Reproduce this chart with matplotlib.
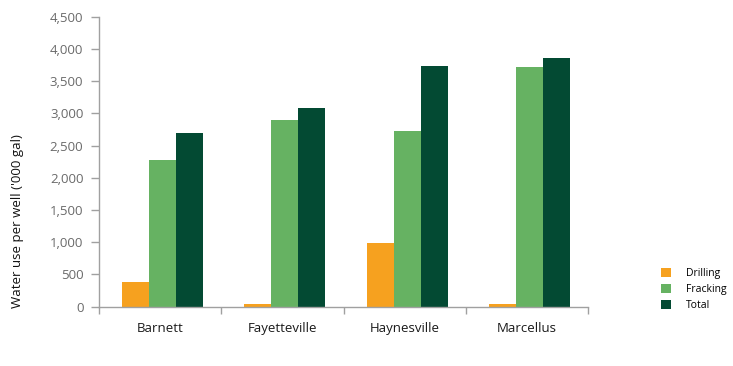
import matplotlib
matplotlib.use("Agg")
import matplotlib.pyplot as plt
import numpy as np
from matplotlib.patches import Patch

categories = ["Barnett", "Fayetteville", "Haynesville", "Marcellus"]
drilling = [380, 35, 985, 45]
fracking = [2275, 2900, 2720, 3720]
total = [2690, 3085, 3740, 3860]
series_names = ["Drilling", "Fracking", "Total"]
yticks = [0, 500, 1000, 1500, 2000, 2500, 3000, 3500, 4000, 4500]
ytick_labels = ["0", "500", "1,000", "1,500", "2,000", "2,500", "3,000", "3,500", "4,000", "4,500"]

colors = ["#F6A11F", "#66B262", "#034A33"]
plt.rcParams['font.family'] = ['Open Sans', 'DejaVu Sans']

W, H = 733, 366
fig = plt.figure(figsize=(W/100, H/100), dpi=100)
ax = fig.add_axes([98.7/W, 1-306.7/H, (588.3-98.7)/W, (306.7-16.7)/H])

x = np.arange(len(categories))
bw = 0.22
offsets = [-bw, 0, bw]
for vals, off, c in zip([drilling, fracking, total], offsets, colors):
    ax.bar(x + off + 0.02, vals, width=bw, color=c, edgecolor='none')

ax.set_xlim(-0.5, len(categories) - 0.5)
ax.set_ylim(0, 4500)
ax.set_yticks(yticks)
ax.set_yticklabels(ytick_labels, color="#6a6a6a", fontsize=9.5)
ax.set_xticks(x)
ax.set_xticklabels(categories, fontsize=9.5, color="#1a1a1a")
ax.set_xticks(np.arange(-0.5, len(categories)), minor=True)
ax.tick_params(axis='x', which='major', length=0, pad=11)
ax.tick_params(axis='x', which='minor', length=5, color="#a0a0a0", width=1)
ax.tick_params(axis='y', length=6, color="#a0a0a0", width=1, pad=5)

for s in ['top', 'right']:
    ax.spines[s].set_visible(False)
for s in ['left', 'bottom']:
    ax.spines[s].set_color("#a0a0a0")
    ax.spines[s].set_linewidth(1)

fig.text(18/W, 1-308/H, "Water use per well ('000 gal)", rotation=90,
         ha='center', va='bottom', fontsize=9.5, color="#111111")

handles = [Patch(facecolor=c, edgecolor='none') for c in colors]
fig.legend(handles, series_names, loc='upper left', bbox_to_anchor=(661/W, 1-268/H),
           frameon=False, fontsize=7.5, handlelength=1.0, handleheight=1.0,
           handletextpad=1.4, labelspacing=0.45, borderpad=0, borderaxespad=0)

fig.savefig("out.png", dpi=100)
